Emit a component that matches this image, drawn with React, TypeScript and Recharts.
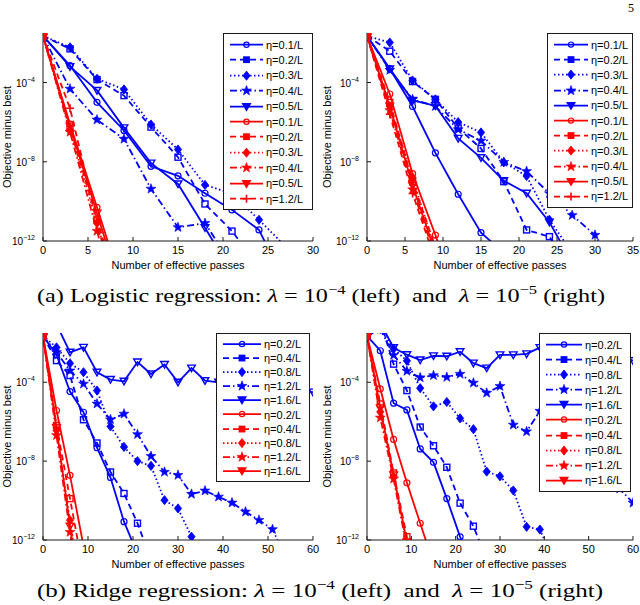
import React from "react";
import { LineChart, Line, XAxis, YAxis, Legend } from "recharts";

// log10(objective minus best), one value every 3 effective passes
const passes = [0, 3, 6, 9, 12, 15, 18, 21, 24, 27, 30, 33, 36, 39, 42, 45, 48, 51, 54, 57, 60, 63];

// (a) logistic regression, lambda = 1e-4
const logL4Blue01 = [-1.65, -3.14, -5.0, -6.42, -8.23, -8.71, -9.59, -10.43, -11.44, -14.2];
const logL4Blue02 = [-1.65, -2.3, -3.85, -4.66, -6.25, -7.77, -10.13, -11.5, -13.3];
const logL4Blue03 = [-1.65, -2.22, -3.81, -4.35, -6.12, -7.38, -9.17, -9.6, -10.93, -12.3];
const logL4Blue04 = [-1.65, -4.32, -5.88, -6.85, -9.37, -11.31, -11.1, -13.2];
const logL4Blue05 = [-1.65, -3.2, -4.4, -6.29, -8.07, -9.12, -11.33, -13.6];
const logL4Red01 = [-1.65, -6.1, -10.3, -14.6];
const logL4Red02 = [-1.65, -6.3, -10.9, -15.5];
const logL4Red03 = [-1.65, -6.4, -11.1, -15.8];
const logL4Red04 = [-1.65, -6.5, -11.5, -16.5];
const logL4Red05 = [-1.65, -6.2, -10.6, -15.0];
const logL4Red12 = [-1.65, -5.3, -11.0, -16.6];

// (a) logistic regression, lambda = 1e-5
const logL5Blue01 = [-1.65, -3.31, -5.21, -7.55, -9.64, -11.58, -12.6];
const logL5Blue02 = [-1.65, -2.42, -3.95, -4.85, -6.3, -7.33, -9.0, -11.44, -11.78, -13.5];
const logL5Blue03 = [-1.65, -1.98, -3.9, -4.85, -6.0, -6.52, -8.03, -8.72, -10.93, -12.6];
const logL5Blue04 = [-1.65, -3.37, -4.85, -5.2, -6.37, -6.94, -8.02, -8.48, -9.6, -10.7, -11.7, -13.5];
const logL5Blue05 = [-1.65, -3.31, -4.9, -5.17, -6.82, -7.8, -8.96, -9.59, -11.05, -13.1];
const logL5Red01 = [-1.65, -4.58, -8.6, -11.7, -15.0];
const logL5Red02 = [-1.65, -5.0, -9.0, -12.3, -15.5];
const logL5Red03 = [-1.65, -5.2, -8.8, -12.5, -16.0];
const logL5Red04 = [-1.65, -5.4, -9.4, -12.8, -16.0];
const logL5Red05 = [-1.65, -5.2, -9.2, -12.6, -16.0];
const logL5Red12 = [-1.65, -5.6, -9.6, -13.0, -16.0];

// (b) ridge regression, lambda = 1e-4
const ridgeL4Blue02 = [-1.65, -2.6, -4.47, -5.52, -7.32, -8.83, -11.07, -12.7];
const ridgeL4Blue04 = [-1.65, -2.9, -3.66, -5.9, -7.08, -8.55, -9.64, -11.15, -13.0];
const ridgeL4Blue08 = [-1.65, -2.23, -3.04, -3.49, -4.42, -6.24, -7.28, -8.0, -8.24, -9.98, -10.4, -11.83, -13.0];
const ridgeL4Blue12 = [-1.65, -2.48, -3.41, -4.08, -5.09, -5.89, -5.6, -6.64, -7.75, -8.55, -8.71, -9.67, -9.5, -9.81, -10.11, -10.57, -10.99, -11.46, -12.9];
const ridgeL4Blue16 = [-1.65, -1.06, -2.48, -2.23, -3.49, -3.86, -3.95, -2.97, -3.58, -3.1, -4.0, -3.28, -3.92, -4.0, -3.6, -4.2, -3.7, -4.3, -3.9, -4.4, -4.5];
const ridgeL4Red02 = [-1.65, -5.43, -8.72, -12.3];
const ridgeL4Red04 = [-1.65, -6.19, -9.9, -13.6];
const ridgeL4Red08 = [-1.65, -6.44, -11.0, -15.5];
const ridgeL4Red12 = [-1.65, -6.69, -11.6, -16.5];
const ridgeL4Red16 = [-1.65, -6.3, -11.3, -16.3];

// (b) ridge regression, lambda = 1e-5
const ridgeL5Blue02 = [-1.65, -2.4, -5.06, -5.4, -7.38, -8.06, -9.9, -11.84, -13.5];
const ridgeL5Blue04 = [-1.65, -0.9, -3.08, -4.42, -6.27, -7.22, -8.31, -10.13, -11.3, -13.0];
const ridgeL5Blue08 = [-1.65, -1.3, -2.3, -2.91, -4.3, -5.22, -5.0, -5.83, -6.38, -8.53, -8.77, -9.49, -11.33, -11.47, -13.0];
const ridgeL5Blue12 = [-1.65, -1.3, -2.62, -3.43, -3.76, -3.65, -3.74, -3.58, -4.03, -4.54, -4.2, -6.16, -6.5, -5.46, -6.0, -7.1, -7.3, -8.4, -8.6, -9.4, -10.12];
const ridgeL5Blue16 = [-1.65, -1.0, -2.25, -2.6, -2.87, -2.66, -2.68, -2.45, -3.03, -3.28, -2.61, -2.61, -2.56, -2.24, -2.6, -2.4, -2.8, -2.5, -2.7, -2.6, -2.91];
const ridgeL5Red02 = [-1.65, -4.33, -6.9, -9.1, -11.15, -13.2];
const ridgeL5Red04 = [-1.65, -5.1, -8.6, -11.83, -15.0];
const ridgeL5Red08 = [-1.65, -5.5, -8.8, -12.2, -15.5];
const ridgeL5Red12 = [-1.65, -5.8, -8.9, -12.4, -16.0];
const ridgeL5Red16 = [-1.65, -5.3, -8.7, -12.1, -15.5];

const etaLogistic = ["0.1", "0.2", "0.3", "0.4", "0.5"];
const etaLogisticRed = ["0.1", "0.2", "0.3", "0.4", "0.5", "1.2"];
const etaRidge = ["0.2", "0.4", "0.8", "1.2", "1.6"];

const xTicks30 = [0, 5, 10, 15, 20, 25, 30];
const xTicks35 = [0, 5, 10, 15, 20, 25, 30, 35];
const xTicks60 = [0, 10, 20, 30, 40, 50, 60];
const yTicks = [-12, -8, -4];
const Y_DOMAIN = [-12, -1.5];

const BLUE = "#0000ff";
const RED = "#ff0000";
const AXIS = "#1a1a1a";
const SANS = '"Liberation Sans", Arial, sans-serif';
const SERIF = '"Liberation Serif", serif';

// matlab-ish line specs: '-o', '--s', ':d', '-.p', '-v', '--+'
const lineStyles = [
  { dash: undefined, shape: "circle" },
  { dash: "6 4", shape: "square" },
  { dash: "1.5 2.5", shape: "diamond" },
  { dash: "7 3 1.5 3", shape: "star" },
  { dash: undefined, shape: "triangle" },
  { dash: "6 4", shape: "plus" },
];

const panels = [
  {
    left: 0, top: 0, marginBottom: 9, yWidth: 43, xMax: 30, xTicks: xTicks30,
    blue: [logL4Blue01, logL4Blue02, logL4Blue03, logL4Blue04, logL4Blue05],
    red: [logL4Red01, logL4Red02, logL4Red03, logL4Red04, logL4Red05, logL4Red12],
    blueEta: etaLogistic, redEta: etaLogisticRed,
    legend: { left: 223, width: 90, row: 15.4, line: 33 },
  },
  {
    left: 320, top: 0, marginBottom: 9, yWidth: 47, xMax: 35, xTicks: xTicks35,
    blue: [logL5Blue01, logL5Blue02, logL5Blue03, logL5Blue04, logL5Blue05],
    red: [logL5Red01, logL5Red02, logL5Red03, logL5Red04, logL5Red05, logL5Red12],
    blueEta: etaLogistic, redEta: etaLogisticRed,
    legend: { left: 227, width: 86, row: 15.2, line: 34 },
  },
  {
    left: 0, top: 300, marginBottom: 10, yWidth: 43, xMax: 60, xTicks: xTicks60,
    blue: [ridgeL4Blue02, ridgeL4Blue04, ridgeL4Blue08, ridgeL4Blue12, ridgeL4Blue16],
    red: [ridgeL4Red02, ridgeL4Red04, ridgeL4Red08, ridgeL4Red12, ridgeL4Red16],
    blueEta: etaRidge, redEta: etaRidge,
    legend: { left: 216, width: 94, row: 14.1, line: 38 },
  },
  {
    left: 320, top: 300, marginBottom: 10, yWidth: 47, xMax: 60, xTicks: xTicks60,
    blue: [ridgeL5Blue02, ridgeL5Blue04, ridgeL5Blue08, ridgeL5Blue12, ridgeL5Blue16],
    red: [ridgeL5Red02, ridgeL5Red04, ridgeL5Red08, ridgeL5Red12, ridgeL5Red16],
    blueEta: etaRidge, redEta: etaRidge,
    legend: { left: 219, width: 92, row: 15.1, line: 36 },
  },
];

function Marker({ shape, cx, cy, color, legend }: any) {
  if (cx == null || cy == null) return null;
  if (shape === "circle") {
    return <circle cx={cx} cy={cy} r={legend ? 2.6 : 3} fill="none" stroke={color} strokeWidth={1.2} />;
  }
  if (shape === "square") {
    const h = legend ? 2.7 : 3;
    return (
      <rect x={cx - h} y={cy - h} width={2 * h} height={2 * h}
        fill={legend ? color : "none"} stroke={color} strokeWidth={1.4} />
    );
  }
  if (shape === "diamond") {
    return (
      <polygon points={`${cx},${cy - 4.6} ${cx + 3.6},${cy} ${cx},${cy + 4.6} ${cx - 3.6},${cy}`}
        fill={color} stroke={color} strokeWidth={0.8} />
    );
  }
  if (shape === "star") {
    const pts: string[] = [];
    for (let k = 0; k < 10; k++) {
      const r = k % 2 === 0 ? 5.2 : 2.1;
      const a = -Math.PI / 2 + (k * Math.PI) / 5;
      pts.push(`${cx + r * Math.cos(a)},${cy + r * Math.sin(a)}`);
    }
    return <polygon points={pts.join(" ")} fill={color} stroke={color} strokeWidth={0.6} />;
  }
  if (shape === "triangle") {
    return (
      <polygon points={`${cx - 3.8},${cy - 3} ${cx + 3.8},${cy - 3} ${cx},${cy + 3.6}`}
        fill={legend ? color : "none"} stroke={color} strokeWidth={1.4} />
    );
  }
  return (
    <path d={`M${cx - 4} ${cy}H${cx + 4}M${cx} ${cy - 4}V${cy + 4}`} stroke={color} strokeWidth={1.6} />
  );
}

function BottomTick({ x, y, payload }: any) {
  return (
    <g>
      <line x1={x} x2={x} y1={y} y2={y - 4} stroke={AXIS} />
      <text x={x} y={y + 13} textAnchor="middle" fontSize={11} fill="#000" fontFamily={SANS}>
        {payload.value}
      </text>
    </g>
  );
}

function TopTick({ x, y }: any) {
  return <line x1={x} x2={x} y1={y} y2={y + 4} stroke={AXIS} />;
}

function LeftTick({ x, y, payload }: any) {
  return (
    <g>
      <line x1={x} x2={x + 4} y1={y} y2={y} stroke={AXIS} />
      <text x={x - 8} y={y + 4} textAnchor="end" fontSize={10} fill="#000" fontFamily={SANS}>
        <tspan>10</tspan>
        <tspan dy={-5} fontSize={7}>{`\u2212${Math.abs(payload.value)}`}</tspan>
      </text>
    </g>
  );
}

function RightTick({ x, y }: any) {
  return <line x1={x} x2={x - 4} y1={y} y2={y} stroke={AXIS} />;
}

function LegendBox({ items, row, line }: any) {
  return (
    <div style={{ background: "#fff", border: `1px solid ${AXIS}`, padding: "3px 0", fontFamily: SANS, fontSize: 11 }}>
      {items.map((s: any) => {
        const st = lineStyles[s.style];
        return (
          <div key={s.color + s.eta} style={{ display: "flex", alignItems: "center", height: row }}>
            <svg width={line + 9} height={row} style={{ flex: "none" }}>
              <line x1={6} x2={6 + line} y1={row / 2} y2={row / 2} stroke={s.color}
                strokeWidth={1.7} strokeDasharray={st.dash} />
              <Marker shape={st.shape} cx={6 + line / 2} cy={row / 2} color={s.color} legend />
            </svg>
            <span style={{ color: "#000", whiteSpace: "nowrap" }}>{`\u03b7=${s.eta}/L`}</span>
          </div>
        );
      })}
    </div>
  );
}

function Panel({ cfg }: any) {
  const series = [
    ...cfg.blue.map((v: number[], i: number) => ({ eta: cfg.blueEta[i], color: BLUE, style: i, values: v })),
    ...cfg.red.map((v: number[], i: number) => ({ eta: cfg.redEta[i], color: RED, style: i, values: v })),
  ];
  return (
    <div style={{ position: "absolute", left: cfg.left, top: cfg.top }}>
      <LineChart width={320} height={280} margin={{ top: 33, right: 7, left: 0, bottom: cfg.marginBottom }}>
        <XAxis
          xAxisId="b"
          type="number"
          dataKey="x"
          domain={[0, cfg.xMax]}
          ticks={cfg.xTicks}
          interval={0}
          allowDataOverflow
          height={30}
          stroke={AXIS}
          tickLine={false}
          tickSize={0}
          tickMargin={0}
          tick={BottomTick}
          label={{ value: "Number of effective passes", position: "insideBottom", offset: 2, style: { fontSize: 11, fill: "#000", fontFamily: SANS } }}
        />
        <XAxis
          xAxisId="t"
          orientation="top"
          type="number"
          domain={[0, cfg.xMax]}
          ticks={cfg.xTicks}
          interval={0}
          allowDataOverflow
          height={0}
          stroke={AXIS}
          tickLine={false}
          tickSize={0}
          tick={TopTick}
        />
        <YAxis
          yAxisId="l"
          type="number"
          domain={Y_DOMAIN}
          ticks={yTicks}
          interval={0}
          allowDataOverflow
          width={cfg.yWidth}
          stroke={AXIS}
          tickLine={false}
          tickSize={0}
          tickMargin={0}
          tick={LeftTick}
          label={{ value: "Objective minus best", angle: -90, position: "insideLeft", offset: 7, style: { textAnchor: "middle", fontSize: 11, fill: "#000", fontFamily: SANS } }}
        />
        <YAxis
          yAxisId="r"
          orientation="right"
          type="number"
          domain={Y_DOMAIN}
          ticks={yTicks}
          interval={0}
          allowDataOverflow
          width={0}
          stroke={AXIS}
          tickLine={false}
          tickSize={0}
          tick={RightTick}
        />
        {series.map((s) => {
          const st = lineStyles[s.style];
          const pts = s.values.map((v: number, i: number) => ({ x: passes[i], y: v }));
          return (
            <Line
              key={s.color + s.eta}
              xAxisId="b"
              yAxisId="l"
              data={pts}
              dataKey="y"
              type="linear"
              stroke={s.color}
              strokeWidth={1.8}
              strokeDasharray={st.dash}
              dot={(p: any) => <Marker key={`m${p.index}`} shape={st.shape} cx={p.cx} cy={p.cy} color={s.color} />}
              activeDot={false}
              isAnimationActive={false}
            />
          );
        })}
        <Legend
          layout="vertical"
          align="center"
          verticalAlign="middle"
          wrapperStyle={{ left: cfg.legend.left, top: 33, width: cfg.legend.width }}
          content={() => <LegendBox items={series} row={cfg.legend.row} line={cfg.legend.line} />}
        />
      </LineChart>
    </div>
  );
}

function Caption({ y, label, width, head }: any) {
  return (
    <text x={37} y={y} textLength={width} lengthAdjust="spacingAndGlyphs" fontFamily={SERIF} fontSize={19} fill="#000" style={{ whiteSpace: "pre" }}>
      {`${label} ${head}: `}
      <tspan fontStyle="italic">{"\u03bb"}</tspan>
      {" = 10"}
      <tspan dy={-8} fontSize={13}>{"\u22124"}</tspan>
      <tspan dy={8}>{" (left)  and  "}</tspan>
      <tspan fontStyle="italic">{"\u03bb"}</tspan>
      {" = 10"}
      <tspan dy={-8} fontSize={13}>{"\u22125"}</tspan>
      <tspan dy={8}>{" (right)"}</tspan>
    </text>
  );
}

export default function App() {
  return (
    <div style={{ position: "relative", width: 640, height: 605, background: "#fff" }}>
      <style>{"body{margin:0}"}</style>
      {panels.map((cfg, i) => (
        <Panel key={i} cfg={cfg} />
      ))}
      <svg width={640} height={605} style={{ position: "absolute", left: 0, top: 0, pointerEvents: "none" }}>
        <text x={628} y={12} fontFamily={SERIF} fontSize={12} fill="#000">5</text>
        <Caption y={302} width={568} label="(a)" head="Logistic regression" />
        <Caption y={597} width={566} label="(b)" head="Ridge regression" />
      </svg>
    </div>
  );
}
